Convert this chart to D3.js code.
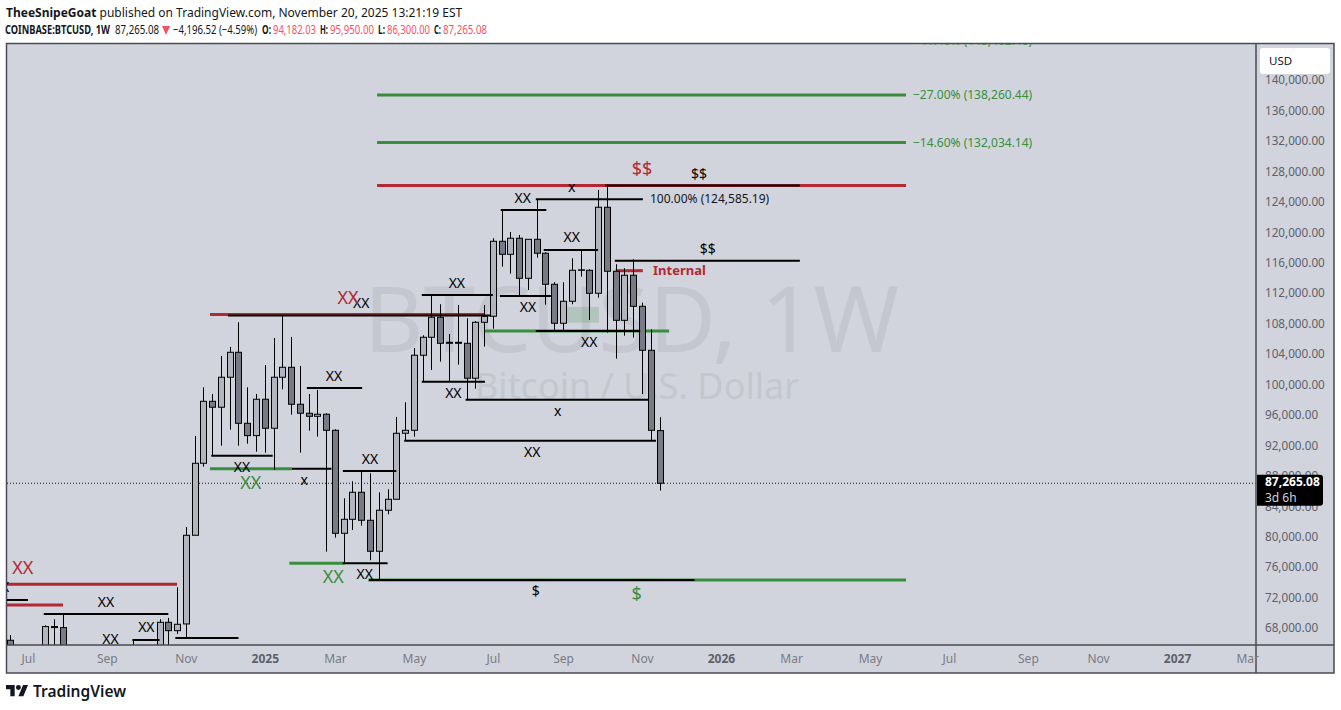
<!DOCTYPE html>
<html>
<head>
<meta charset="utf-8">
<script src="https://cdn.jsdelivr.net/npm/d3@7"></script>
<style>
html, body { margin: 0; background: #fff; }
svg { display: block; }
text { font-family: "Noto Sans", sans-serif; }
</style>
</head>
<body>
<svg id="chart" width="1341" height="710"></svg>
<script>
// weekly candles, first one is the week of Jun 17 2024
var opens = [66640,63200,62700,55850,60800,68440,68300,58700,58720,58450,64250,57300,54150,59950,63550,65700,62100,62900,69000,67900,68780,80430,89890,98030,97250,101190,104470,95140,93520,98300,94490,101190,102500,97640,96460,96060,96330,94220,80690,82530,86080,82400,78330,83720,85160,93830,94220,104080,106440,109070,105650,105780,105650,101060,108410,109200,119050,117340,119450,114190,119310,117480,113400,108280,111170,115240,115240,112220,123520,115110,108670,114590,110510,104730,94182.03];
var highs = [67330,63400,63800,61400,68610,69400,69960,62700,61800,65000,64950,59800,60650,64100,66670,66000,64500,69400,69570,73600,81520,93480,99870,98990,103990,105170,108410,99870,98990,102800,106350,109370,106480,102670,98990,99520,96460,94360,85290,87530,88880,88580,86080,86470,95970,97900,105040,106700,112000,110780,106870,110680,108940,108580,110680,119450,123160,120270,119880,119310,124585,117610,113670,113670,116820,117870,115370,125790,126220,116030,115510,116690,110990,107490,95950];
var lows = [60000,60400,53500,54300,59700,63400,57100,49050,56100,57800,57200,52550,53650,57500,62650,59900,58900,62000,65300,67470,67070,80430,89440,90890,92200,94300,92200,92460,91410,91280,89010,99610,96270,91280,94170,93380,78280,80120,76750,81130,81690,77150,74430,83190,85160,92860,93380,100610,102150,103240,100610,102840,98300,99690,105210,107570,115720,114800,111870,112650,116900,110720,107270,107360,110780,114400,108710,111640,107040,103630,106650,106390,98990,92910,86300];
var closes = [63200,62700,55850,60800,68440,68300,58700,58720,58450,64250,57300,54150,59950,63550,65700,62100,62900,69000,67900,68740,80430,89890,98030,97250,101190,104470,95140,93520,98300,94490,101190,102500,97640,96460,96060,96330,94220,80690,82530,86080,82400,78330,83720,85160,93830,94220,104080,106440,109070,105650,105780,105650,101060,108410,109200,119050,117340,119450,114190,119310,117480,113400,108280,111170,115240,115300,112220,123520,115110,108670,114590,110510,104730,94220,87265.08];

var priceTicks = [140000,136000,132000,128000,124000,120000,116000,112000,108000,104000,100000,96000,92000,88000,84000,80000,76000,72000,68000];
var weekTicks = [2,11,20,29,37,46,55,63,72,81,89,98,107,116,124,133,141];
var weekLabels = ['Jul','Sep','Nov','2025','Mar','May','Jul','Sep','Nov','2026','Mar','May','Jul','Sep','Nov','2027','Mar'];
var lastPrice = 87265.08;

// drawings: [from week, to week, price]
var greenLines = [[41.8,102.1,138260.44],[41.8,102.1,132034.14],[41.8,102.1,145402.4],[54,75.1,107265],[22.75,32.1,89180],[31.8,38.1,76750],[40.8,102.1,74555]];
var redLines = [[41.8,102.1,126380],[22.75,54.1,109430],[69,72.1,115185],[-0.4,19,73990],[-0.4,6,71270]];
var blackLines = [[67.8,90,126380],[24.8,54.7,109300],[59.9,71.8,107265],[32.1,36.6,89180],[22.9,29.9,90885],[33.8,40.1,99780],[37.9,44,88875],[37.9,43,76750],[40.9,78,74555],[44.9,73.6,92855],[51.9,72.7,98240],[46.9,54.1,100605],[46.9,55,111995],[55.8,61.7,111865],[55.9,61.1,123160],[59.9,72.1,124585],[60.8,67,117905],[68.9,90,116500],[-0.4,2,71930],[3.8,18,70090],[13.9,17,66675],[18.8,26,66940]];
var greenZone = [63.2,67.1,110420,108355];

// labels: [text, week, price]
var blackLabels = [['XX',40,110940],['XX',36.9,101350],['XX',41,90450],['XX',26.4,89400],['x',33.5,87690],['XX',50.9,113570],['XX',58.4,124740],['x',64,126180],['XX',64,119610],['XX',59,110420],['XX',66,105820],['XX',50.5,99120],['x',62.4,96760],['XX',59.5,91370],['XX',40.4,75340],['$',59.9,73110],['$$',78.5,127890],['$$',79.5,118040],['XX',10.9,71670],['XX',11.4,66810],['XX',15.5,68380],['XX',22.4,65360],['X',-0.6,73660]];
var redLabels = [['XX',38.5,111600],['$$',72,128545],['XX',1.4,76130]];
var greenLabels = [['XX',27.4,87300],['XX',36.8,74950],['$',71.4,72720]];
var fibLabels = [['\u221227.00% (138,260.44)',138260.44],['\u221214.60% (132,034.14)',132034.14],['\u221241.40% (145,402.40)',145402.4]];

var green = '#388e3c', red = '#b22833', ink = '#000', bg = '#d1d4dc', frame = '#4a4b52';
var plotLeft = 7, plotRight = 1256, plotTop = 43.5, plotBottom = 645, outerRight = 1334, outerBottom = 673;

var svg = d3.select('#chart');
var x = d3.scaleLinear().domain([0, 74]).range([10.4, 659.5]);
var y = d3.scaleLinear().domain([140000, 68000]).range([81.8, 629.9]);

svg.append('rect').attr('x', 6.5).attr('y', plotTop).attr('width', outerRight - 6.5).attr('height', outerBottom - plotTop)
	.attr('fill', bg).attr('stroke', frame).attr('stroke-width', 1.5);

svg.append('defs').append('clipPath').attr('id', 'plot').append('rect')
	.attr('x', plotLeft).attr('y', plotTop + 0.7).attr('width', plotRight - plotLeft).attr('height', plotBottom - plotTop - 0.7);

var plot = svg.append('g').attr('clip-path', 'url(#plot)');

// watermark
plot.append('text').attr('x', 631.5).attr('y', 352).attr('text-anchor', 'middle')
	.attr('font-size', 92).attr('fill', '#c4c7d0').text('BTCUSD, 1W');
plot.append('text').attr('x', 637).attr('y', 399).attr('text-anchor', 'middle')
	.attr('font-size', 36).attr('fill', '#c4c7d0').text('Bitcoin / U.S. Dollar');

plot.append('rect').attr('x', x(greenZone[0])).attr('width', x(greenZone[1]) - x(greenZone[0]))
	.attr('y', y(greenZone[2])).attr('height', y(greenZone[3]) - y(greenZone[2]))
	.attr('fill', green).attr('opacity', 0.2);

plot.append('line').attr('x1', plotLeft).attr('x2', plotRight).attr('y1', y(lastPrice)).attr('y2', y(lastPrice))
	.attr('stroke', '#131722').attr('stroke-dasharray', '1 2');

function drawLines(list, color, width) {
	plot.append('g').selectAll('line').data(list).join('line')
		.attr('x1', function(d) { return x(d[0]); })
		.attr('x2', function(d) { return x(d[1]); })
		.attr('y1', function(d) { return y(d[2]); })
		.attr('y2', function(d) { return y(d[2]); })
		.attr('stroke', color).attr('stroke-width', width);
}

drawLines(greenLines, green, 3);
drawLines(redLines, red, 3);

// candles
var candle = plot.append('g').selectAll('g').data(d3.range(opens.length)).join('g');
candle.append('line')
	.attr('x1', function(i) { return Math.round(x(i)) + 0.5; })
	.attr('x2', function(i) { return Math.round(x(i)) + 0.5; })
	.attr('y1', function(i) { return y(highs[i]); })
	.attr('y2', function(i) { return y(lows[i]); })
	.attr('stroke', ink).attr('stroke-width', 1);
candle.append('rect')
	.attr('x', function(i) { return Math.round(x(i)) - 2.5; })
	.attr('width', 6)
	.attr('y', function(i) { return y(Math.max(opens[i], closes[i])); })
	.attr('height', function(i) { return Math.abs(y(opens[i]) - y(closes[i])); })
	.attr('fill', function(i) { return closes[i] >= opens[i] ? '#b2b5be' : '#787b86'; })
	.attr('stroke', ink).attr('stroke-width', 1);

drawLines(blackLines, ink, 2);

function drawLabels(list, color, size) {
	plot.append('g').selectAll('text').data(list).join('text')
		.attr('x', function(d) { return x(d[1]); })
		.attr('y', function(d) { return y(d[2]); })
		.attr('dy', '0.35em').attr('text-anchor', 'middle')
		.attr('font-size', size).attr('fill', color)
		.text(function(d) { return d[0]; });
}

drawLabels(blackLabels, ink, 14);
drawLabels(redLabels, red, 18);
drawLabels(greenLabels, green, 18);

plot.append('g').selectAll('text').data(fibLabels).join('text')
	.attr('x', 913).attr('y', function(d) { return y(d[1]); }).attr('dy', '0.35em')
	.attr('font-size', 12).attr('fill', green).text(function(d) { return d[0]; });

plot.append('text').attr('x', 650).attr('y', y(124585)).attr('dy', '0.35em')
	.attr('font-size', 12).attr('fill', '#131722').text('100.00% (124,585.19)');
plot.append('text').attr('x', 653).attr('y', y(115185)).attr('dy', '0.35em')
	.attr('font-size', 13).attr('font-weight', 700).attr('fill', red).text('Internal');

// axes
var yAxis = svg.append('g').attr('transform', 'translate(' + plotRight + ',0)')
	.call(d3.axisRight(y).tickValues(priceTicks).tickSize(0).tickFormat(d3.format(',.2f')));
yAxis.select('.domain').attr('stroke', frame).attr('stroke-width', 1.5)
	.attr('d', 'M0,' + plotTop + 'V' + outerBottom);
yAxis.selectAll('text').attr('x', 9).attr('dy', '0.32em').attr('transform', 'translate(0,-1.8)')
	.attr('font-family', 'Noto Sans').attr('font-size', 11.7).attr('fill', '#5d606b');

var xAxis = svg.append('g').attr('transform', 'translate(0,' + plotBottom + ')')
	.call(d3.axisBottom(x).tickValues(weekTicks).tickSize(0).tickFormat(function(d, i) { return weekLabels[i]; }));
xAxis.select('.domain').attr('stroke', frame).attr('stroke-width', 1.5)
	.attr('d', 'M' + 6.5 + ',0H' + outerRight);
xAxis.selectAll('text').attr('y', 9)
	.attr('font-family', 'Noto Sans').attr('font-size', 12)
	.attr('font-weight', function(d, i) { return /^20/.test(weekLabels[i]) ? 700 : 400; })
	.attr('fill', function(d, i) { return /^20/.test(weekLabels[i]) ? '#5d606b' : '#787b86'; });

// currency button and last price tag
svg.append('rect').attr('x', 1260).attr('y', 48).attr('width', 70).attr('height', 26).attr('rx', 3).attr('fill', '#fff');
svg.append('text').attr('x', 1269).attr('y', 61).attr('dy', '0.35em').attr('font-size', 11.5).attr('fill', '#131722').text('USD');

svg.append('path').attr('d', 'M1257,474.7H1320a3,3 0 0 1 3,3V502.7a3,3 0 0 1 -3,3H1257Z').attr('fill', '#000');
svg.append('text').attr('x', 1265).attr('y', y(lastPrice) - 1.5).attr('dy', '0.35em')
	.attr('font-size', 12).attr('font-weight', 700).attr('fill', '#fff').text(d3.format(',.2f')(lastPrice));
svg.append('text').attr('x', 1265).attr('y', 497.5).attr('dy', '0.35em')
	.attr('font-size', 12).attr('fill', '#d1d4dc').text('3d 6h');

// header
svg.append('text').attr('x', 6).attr('y', 16.5).attr('font-size', 12).attr('fill', '#131722')
	.html('<tspan font-weight="700">TheeSnipeGoat</tspan> published on TradingView.com, November 20, 2025 13:21:19 EST');

var headRed = '#f7525f';
var headBits = [
	[5, 105, 'COINBASE:BTCUSD, 1W', '#131722', 700],
	[115, 44, '87,265.08', '#131722', 400],
	[173, 84, '\u22124,196.52 (\u22124.59%)', '#131722', 400],
	[262, 9, 'O:', '#131722', 700],
	[273, 43, '94,182.03', headRed, 400],
	[320, 8, 'H:', '#131722', 700],
	[330, 44, '95,950.00', headRed, 400],
	[378, 7, 'L:', '#131722', 700],
	[387, 43, '86,300.00', headRed, 400],
	[434, 7, 'C:', '#131722', 700],
	[443, 44, '87,265.08', headRed, 400]
];
svg.append('g').selectAll('text').data(headBits).join('text')
	.attr('x', function(d) { return d[0]; }).attr('y', 34).attr('font-size', 12)
	.attr('textLength', function(d) { return d[1]; }).attr('lengthAdjust', 'spacingAndGlyphs')
	.attr('fill', function(d) { return d[3]; }).attr('font-weight', function(d) { return d[4]; })
	.text(function(d) { return d[2]; });
svg.append('path').attr('d', 'M162,26H170L166,35Z').attr('fill', headRed);

// logo
var logo = svg.append('g').attr('transform', 'translate(6,682.5) scale(0.62)').attr('fill', '#131722');
logo.append('path').attr('d', 'M14 22H7V11H0V4h14v18zM28 22h-8l7.5-18h8L28 22z');
logo.append('circle').attr('cx', 20).attr('cy', 8).attr('r', 4);
svg.append('text').attr('x', 33).attr('y', 697).attr('font-family', 'Inter').attr('font-size', 15.5)
	.attr('font-weight', 600).attr('fill', '#131722').text('TradingView');
</script>
</body>
</html>
